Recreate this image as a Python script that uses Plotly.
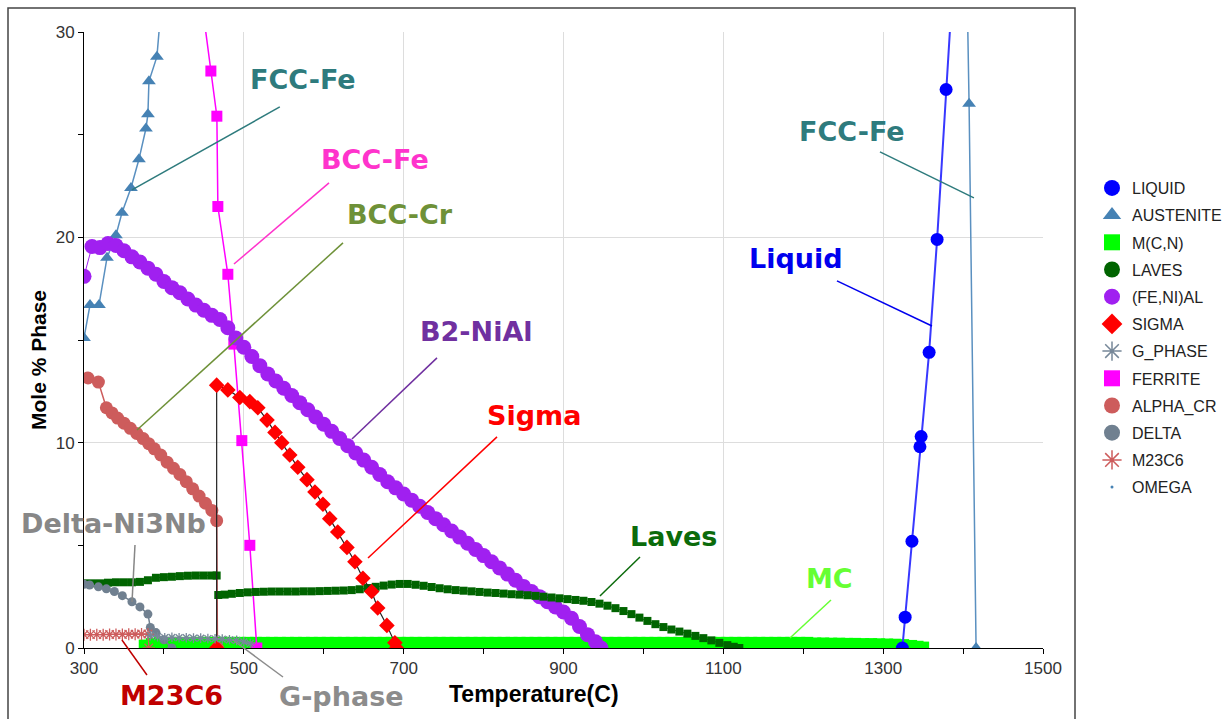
import plotly.graph_objects as go

# ---------------- data (Temperature °C, Mole % phase) ----------------
liquid_T = [1324, 1327.5, 1336, 1346, 1347.5, 1357.5, 1367.5, 1378.75, 1385]
liquid_y = [0.0, 1.5, 5.2, 9.8, 10.3, 14.4, 19.9, 27.2, 31.0]

austenite_T = [300, 307.5, 318.75, 328.75, 340, 347.5, 358.75, 368.75, 377.5, 380, 381.25, 391.25, 396,
               None, 1405.5, 1407.5, 1416.25]
austenite_y = [15.1, 16.7, 16.7, 19.0, 20.1, 21.2, 22.4, 23.8, 25.3, 26.0, 27.6, 28.8, 31.0,
               None, 31.0, 26.5, 0.0]

mcn_T = [376, 385, 395, 405, 415, 425, 435, 445, 455, 465, 475, 485, 495, 505, 515, 525, 535, 545, 555,
         565, 575, 585, 595, 605, 615, 625, 635, 645, 655, 665, 675, 685, 695, 705, 715, 725, 735, 745,
         755, 765, 775, 785, 795, 805, 815, 825, 835, 845, 855, 865, 875, 885, 895, 905, 915, 925, 935,
         945, 955, 965, 975, 985, 995, 1005, 1015, 1025, 1035, 1045, 1055, 1065, 1075, 1085, 1095, 1105,
         1115, 1125, 1135, 1145, 1155, 1165, 1175, 1185, 1195, 1205, 1215, 1225, 1235, 1245, 1255, 1265,
         1275, 1285, 1295, 1305, 1315, 1325, 1335, 1343, 1350]
mcn_y = [0.12, 0.2, 0.24, 0.25, 0.25, 0.25, 0.25, 0.25, 0.25, 0.25, 0.25, 0.25, 0.25, 0.25, 0.25, 0.25,
         0.25, 0.25, 0.25, 0.25, 0.25, 0.25, 0.25, 0.25, 0.25, 0.25, 0.25, 0.25, 0.25, 0.25, 0.25, 0.25,
         0.25, 0.25, 0.25, 0.25, 0.25, 0.25, 0.25, 0.25, 0.25, 0.25, 0.25, 0.25, 0.25, 0.25, 0.25, 0.25,
         0.25, 0.25, 0.25, 0.25, 0.25, 0.25, 0.25, 0.25, 0.25, 0.25, 0.25, 0.25, 0.25, 0.25, 0.25, 0.25,
         0.25, 0.25, 0.25, 0.25, 0.25, 0.25, 0.25, 0.25, 0.25, 0.25, 0.25, 0.25, 0.25, 0.25, 0.25, 0.25,
         0.25, 0.25, 0.25, 0.25, 0.22, 0.22, 0.21, 0.21, 0.2, 0.2, 0.19, 0.19, 0.18, 0.17, 0.16, 0.14,
         0.1, 0.06, 0.02]

laves_T = [300, 310, 320, 330, 340, 350, 360, 370, 380, 390, 400, 410, 420, 430, 440, 450, 460, 466,
           None,
           468, 476, 485, 495, 505, 515, 525, 535, 545, 555, 565, 575, 585, 595, 605, 615, 625, 635,
           645, 655, 665, 675, 685, 695, 705, 715, 725, 735, 745, 755, 765, 775, 785, 795, 805, 815,
           825, 835, 845, 855, 865, 875, 885, 895, 905, 915, 925, 935, 945, 955, 965, 975, 985, 995,
           1005, 1015, 1025, 1035, 1045, 1055, 1065, 1075, 1085, 1095, 1105, 1113, 1120]
laves_y = [3.15, 3.15, 3.15, 3.18, 3.2, 3.2, 3.2, 3.22, 3.3, 3.42, 3.45, 3.47, 3.5, 3.52, 3.53, 3.53,
           3.53, 3.53,
           None,
           2.58, 2.6, 2.64, 2.68, 2.71, 2.73, 2.74, 2.75, 2.75, 2.75, 2.75, 2.76, 2.76, 2.77, 2.78,
           2.79, 2.8, 2.82, 2.86, 2.92, 2.98, 3.04, 3.09, 3.12, 3.12, 3.08, 3.03, 2.97, 2.91, 2.86,
           2.82, 2.79, 2.76, 2.73, 2.7, 2.68, 2.65, 2.62, 2.6, 2.57, 2.54, 2.5, 2.46, 2.42, 2.38, 2.34,
           2.3, 2.24, 2.16, 2.06, 1.94, 1.8, 1.65, 1.48, 1.32, 1.16, 1.02, 0.9, 0.8, 0.7, 0.59, 0.48,
           0.37, 0.25, 0.14, 0.06, 0.0]

feni_al_T = [300, 310, 320, 330, 340, 350, 360, 370, 380, 390, 400, 410, 420, 430, 440, 450, 460, 470,
             480, 490, 500, 510, 520, 530, 540, 550, 560, 570, 580, 590, 600, 610, 620, 630, 640, 650,
             660, 670, 680, 690, 700, 710, 720, 730, 740, 750, 760, 770, 780, 790, 800, 810, 820, 830,
             840, 850, 860, 870, 880, 890, 900, 910, 920, 930, 940, 947]
feni_al_y = [18.1, 19.55, 19.5, 19.7, 19.6, 19.35, 19.05, 18.8, 18.5, 18.2, 17.85, 17.55, 17.3, 17.0,
             16.7, 16.45, 16.2, 16.0, 15.6, 15.1, 14.65, 14.2, 13.75, 13.35, 13.0, 12.65, 12.3, 11.95,
             11.6, 11.25, 10.9, 10.55, 10.2, 9.85, 9.5, 9.15, 8.8, 8.45, 8.1, 7.8, 7.5, 7.2, 6.9, 6.6,
             6.3, 6.0, 5.7, 5.4, 5.1, 4.8, 4.5, 4.2, 3.9, 3.6, 3.3, 3.0, 2.75, 2.5, 2.25, 2.0, 1.75, 1.45,
             1.05, 0.65, 0.3, 0.0]

sigma_T = [466, 466, 480, 495, 507.5, 517.5, 529, 539, 547.5, 557.5, 567.5, 579, 589, 599, 607.5, 617.5,
           629, 639, 649, 660, 667.5, 679, 689, 691]
sigma_y = [0.0, 12.8, 12.57, 12.2, 12.0, 11.7, 11.1, 10.5, 10.0, 9.4, 8.8, 8.2, 7.6, 7.0, 6.3, 5.65, 4.9,
           4.2, 3.4, 2.75, 1.95, 1.1, 0.25, 0.0]

g_phase_T = [383, 392, 401, 410, 419, 428, 437, 446, 455, 464, 473, 482, 491, 500, 508]
g_phase_y = [0.6, 0.55, 0.5, 0.52, 0.5, 0.5, 0.48, 0.48, 0.46, 0.45, 0.43, 0.4, 0.37, 0.3, 0.22]

ferrite_T = [449, 458.75, 466.25, 467.5, 480, 487.5, 497.5, 507.5, 516.25]
ferrite_y = [31.0, 28.1, 25.9, 21.5, 18.2, 14.8, 10.1, 5.0, 0.0]

alpha_cr_T = [305, 318, 328, 335, 342, 350, 358, 366, 374, 381, 388, 396, 404, 412, 420, 428, 436, 444,
              452, 460, 466, 467]
alpha_cr_y = [13.15, 12.95, 11.7, 11.45, 11.2, 10.95, 10.7, 10.45, 10.2, 9.95, 9.7, 9.4, 9.05, 8.75,
              8.45, 8.1, 7.75, 7.4, 7.05, 6.7, 6.2, 0.0]

delta_T = [300, 307, 318, 328, 338, 348, 360, 370, 380, 383, 390, 400, 410]
delta_y = [3.1, 3.07, 2.98, 2.88, 2.75, 2.55, 2.25, 2.0, 1.65, 1.0, 0.75, 0.4, 0.0]

m23c6_T = [300, 308, 316, 324, 332, 340, 348, 356, 364, 372, 380, 381]
m23c6_y = [0.65, 0.65, 0.65, 0.65, 0.66, 0.66, 0.66, 0.67, 0.67, 0.68, 0.68, 0.0]

legend_names = ["LIQUID", "AUSTENITE", "M(C,N)", "LAVES", "(FE,NI)AL", "SIGMA", "G_PHASE",
                "FERRITE", "ALPHA_CR", "DELTA", "M23C6", "OMEGA"]

# ---------------- styles ----------------
C_LIQ = "#0000FF"
C_AUS = "#4682B4"
C_MCN = "#00FF00"
C_LAV = "#006400"
C_FEN = "#A020F0"
C_SIG = "#FF0000"
C_GPH = "#778899"
C_FER = "#FF00FF"
C_ALP = "#CD5C5C"
C_DEL = "#708090"
C_M23 = "#CD5C5C"
C_OME = "#4682B4"

fig = go.Figure()

def add(x, y, color, symbol, size, lw=1.5, lcolor=None, open_sym=False):
    marker = dict(symbol=symbol, size=size, color=color)
    if open_sym:
        marker["line"] = dict(color=color, width=1.3)
    fig.add_trace(go.Scatter(x=x, y=y, mode="lines+markers", showlegend=False,
                             line=dict(color=lcolor or color, width=lw),
                             marker=marker, hoverinfo="skip"))

add(mcn_T, mcn_y, C_MCN, "square", 12, lw=1)
add(liquid_T, liquid_y, C_LIQ, "circle", 13, lw=2, lcolor="#3838FF")
add(austenite_T, austenite_y, C_AUS, "triangle-up", 12, lw=1.5, lcolor="#5A90C0")
add(ferrite_T, ferrite_y, C_FER, "square", 11, lw=1.5)
add(feni_al_T, feni_al_y, C_FEN, "circle", 15, lw=1)
add(alpha_cr_T, alpha_cr_y, C_ALP, "circle", 13, lw=1.5)
add(laves_T, laves_y, C_LAV, "square", 8, lw=1)
add(sigma_T, sigma_y, C_SIG, "diamond", 12, lw=1.2, lcolor="#222222")
add(delta_T, delta_y, C_DEL, "circle", 9, lw=1.5)
add(m23c6_T, m23c6_y, C_M23, "asterisk-open", 10, lw=1, open_sym=True)
add(g_phase_T, g_phase_y, C_GPH, "asterisk-open", 8, lw=1, open_sym=True)

# legend-only entries (marker only, as in the reference legend)
leg_styles = [
    (C_LIQ, "circle", 16), (C_AUS, "triangle-up", 16), (C_MCN, "square", 16), (C_LAV, "circle", 16),
    (C_FEN, "circle", 16), (C_SIG, "diamond", 16), (C_GPH, "asterisk-open", 16), (C_FER, "square", 16),
    (C_ALP, "circle", 16), (C_DEL, "circle", 16), (C_M23, "asterisk-open", 16), (C_OME, "circle", 3),
]
for name, (col, sym, sz) in zip(legend_names, leg_styles):
    mk = dict(symbol=sym, size=sz, color=col)
    if sym.endswith("open"):
        mk["line"] = dict(color=col, width=1.5)
    fig.add_trace(go.Scatter(x=[None], y=[None], mode="markers", name=name, legendgroup=name,
                             marker=mk, showlegend=True))

# ---------------- callouts ----------------
LBL_FONT = "DejaVu Sans"
callouts = [
    # text, color, text x, text y, line x0,y0 -> x1,y1, yref of text/lines
    ("FCC-Fe", "#2E7B7D", 574, 27.67, 545, 26.35, 360, 22.31, "y"),
    ("FCC-Fe", "#2E7B7D", 1261, 25.16, 1296, 24.16, 1413.6, 21.92, "y"),
    ("BCC-Fe", "#FF33CC", 663.5, 23.77, 606.6, 22.65, 487.7, 18.7, "y"),
    ("BCC-Cr", "#6E9138", 696, 21.09, 624.1, 19.73, 366.3, 10.62, "y"),
    ("B2-NiAl", "#7030A0", 791.7, 15.39, 741.7, 14.13, 635.3, 10.18, "y"),
    ("Sigma", "#FF0000", 862.5, 11.32, 816.8, 10.28, 655.4, 4.38, "y"),
    ("Laves", "#0B6B0B", 1037.6, 5.41, 995.7, 4.43, 945.6, 2.53, "y"),
    ("MC", "#66FF33", 1233.4, 3.39, 1234.7, 2.34, 1183.4, 0.49, "y"),
    ("Liquid", "#0000EE", 1191.5, 18.97, 1242.2, 17.88, 1361.1, 15.68, "y"),
    ("Delta-Ni3Nb", "#878787", 337, 6.06, 363.8, 5.02, 360.1, 2.24, "y"),
    ("M23C6", "#C00000", 408.9, -0.0771, 378.8, -0.0438, 347.5, 0.013, "paper"),
    ("G-phase", "#8C8C8C", 622.2, -0.0795, 549, -0.0471, 486.4, 0.013, "paper"),
]
shapes = []
annotations = []
for txt, col, tx, ty, x0, y0, x1, y1, yr in callouts:
    shapes.append(dict(type="line", xref="x", yref=yr, x0=x0, y0=y0, x1=x1, y1=y1,
                       line=dict(color=col, width=1.5)))
    annotations.append(dict(text=f"<b>{txt}</b>", x=tx, y=ty, xref="x", yref=yr, showarrow=False,
                            xanchor="center", yanchor="middle",
                            font=dict(family=LBL_FONT, size=27, color=col)))

# axis titles
annotations.append(dict(text="<b>Temperature(C)</b>", x=(534 - 84) / 959, y=(648 - 694) / 616,
                        xref="paper", yref="paper", showarrow=False, xanchor="center", yanchor="middle",
                        font=dict(family="Liberation Sans, Arial", size=23, color="#000000")))
annotations.append(dict(text="<b>Mole % Phase</b>", x=(38 - 84) / 959, y=(648 - 360) / 616,
                        xref="paper", yref="paper", showarrow=False, xanchor="center", yanchor="middle",
                        textangle=-90,
                        font=dict(family="Liberation Sans, Arial", size=21, color="#000000")))

# outer frame
shapes.append(dict(type="rect", xref="paper", yref="paper", x0=(8 - 84) / 959, x1=(1075 - 84) / 959,
                   y0=-0.3, y1=(648 - 8) / 616, line=dict(color="#444444", width=1.5), layer="below"))

fig.update_layout(
    width=1232, height=719,
    margin=dict(l=84, r=189, t=32, b=71, autoexpand=False),
    paper_bgcolor="white", plot_bgcolor="white",
    font=dict(family="Liberation Sans, Arial", color="#333333"),
    shapes=shapes, annotations=annotations,
    legend=dict(x=(1092 - 84) / 959, y=(648 - 171) / 616, xanchor="left", yanchor="top",
                font=dict(size=16, color="#222222"), tracegroupgap=3.4, itemwidth=30,
                bgcolor="rgba(0,0,0,0)", borderwidth=0),
    xaxis=dict(range=[300, 1500], tick0=300, dtick=200, ticks="outside", ticklen=5, tickcolor="#000",
               showline=True, linecolor="#000", linewidth=1, showgrid=True, gridcolor="#DDDDDD",
               zeroline=False, tickfont=dict(size=17, color="#333333"),
               minor=dict(tick0=300, dtick=100, ticks="outside", ticklen=5, tickcolor="#000",
                          showgrid=False)),
    yaxis=dict(range=[0, 30], tick0=0, dtick=10, ticks="outside", ticklen=5, tickcolor="#000",
               showline=True, linecolor="#000", linewidth=1, showgrid=True, gridcolor="#DDDDDD",
               zeroline=False, tickfont=dict(size=17, color="#333333"),
               minor=dict(tick0=0, dtick=5, ticks="outside", ticklen=5, tickcolor="#000",
                          showgrid=False)),
)

fig.write_html("out.html")
